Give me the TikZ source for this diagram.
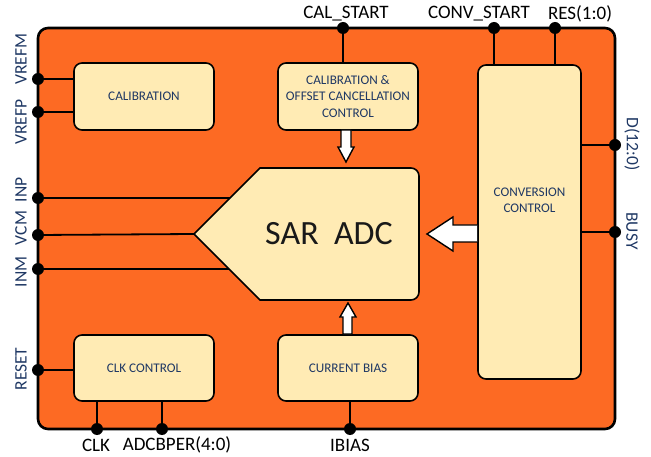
\documentclass[tikz,border=0pt]{standalone}
\usepackage{fontspec}
\setmainfont{Carlito}
\definecolor{orng}{RGB}{253,106,35}
\definecolor{cream}{RGB}{255,235,180}
\definecolor{navy}{RGB}{31,56,100}
\begin{document}
\begin{tikzpicture}[x=1pt,y=-1pt,
  blk/.style={draw, line width=1.6pt, rounded corners=8pt, fill=cream, text=navy,
    font=\fontsize{13.2}{16.5}\selectfont, align=center, inner sep=0pt},
  btxt/.style={text=navy, font=\fontsize{13.2}{16}\selectfont, align=center, inner sep=0pt},
  pinpt/.style={circle, fill=black, minimum size=12pt, inner sep=0pt},
  wire/.style={line width=1.8pt},
  lab/.style={font=\fontsize{19}{21}\selectfont, inner sep=0pt},
  slab/.style={font=\fontsize{17.5}{20}\selectfont, inner sep=0pt, text=navy},
  fat/.style={draw, line width=1.4pt, fill=white, line join=miter}]
\useasboundingbox (0,0) rectangle (651,457);
% outer block
\draw[line width=2.6pt, fill=orng, rounded corners=10pt] (38,28) rectangle (615,429);
% pins
\node[pinpt] (vrefm) at (38,79) {};
\node[pinpt] (vrefp) at (38,112) {};
\node[pinpt] (inp) at (38,198) {};
\node[pinpt] (vcm) at (38,235) {};
\node[pinpt] (inm) at (38,269) {};
\node[pinpt] (reset) at (38,370) {};
\node[pinpt] (calstart) at (343,28) {};
\node[pinpt] (convstart) at (494,28) {};
\node[pinpt] (res) at (555,28) {};
\node[pinpt] (dout) at (615,145) {};
\node[pinpt] (busy) at (615,232) {};
\node[pinpt] (clk) at (97,429) {};
\node[pinpt] (adcbper) at (162,429) {};
\node[pinpt] (ibias) at (350,429) {};
% blocks
\node[blk, minimum width=140pt, minimum height=67pt] (cal) at (144,96.5) {CALIBRATION};
\node[blk, minimum width=140pt, minimum height=67pt] (calo) at (348,96.5) {CALIBRATION \&\\OFFSET CANCELLATION\\CONTROL};
\node[blk, minimum width=103pt, minimum height=314pt] (conv) at (529.5,222) {};
\node[btxt] (convtxt) at (529.5,200) {CONVERSION\\CONTROL};
\node[blk, minimum width=140pt, minimum height=66pt] (clkc) at (144,368) {CLK CONTROL};
\node[blk, minimum width=140pt, minimum height=66pt] (bias) at (348,368) {CURRENT BIAS};
% SAR ADC shape corners
\coordinate (tip) at (194,234);
\coordinate (sartl) at (260,168);
\coordinate (sarbl) at (260,300);
\coordinate (sartr) at (419,168);
\coordinate (sarbr) at (419,300);
% wires into SAR (drawn under the shape)
\draw[wire] (inp.center) -- (inp.center -| sarbr);
\draw[wire] (vcm.center) -- (tip);
\draw[wire] (inm.center) -- (inm.center -| sarbr);
\draw[line width=1.6pt, fill=cream, line join=miter]
  (sarbl) -- (tip) -- (sartl) [rounded corners=8pt] -- (sartr) -- (sarbr) [sharp corners] -- cycle;
\node[font=\fontsize{34}{36}\selectfont, text=black!90] (sar) at (329,234) {SAR\hspace{0.45em}ADC};
% other wires
\draw[wire] (vrefm.center) -- (vrefm.center -| cal.west);
\draw[wire] (vrefp.center) -- (vrefp.center -| cal.west);
\draw[wire] (reset.center) -- (reset.center -| clkc.west);
\draw[wire] (calstart.center) -- (calstart.center |- calo.north);
\draw[wire] (convstart.center) -- (convstart.center |- conv.north);
\draw[wire] (res.center) -- (res.center |- conv.north);
\draw[wire] (dout.center) -- (dout.center -| conv.east);
\draw[wire] (busy.center) -- (busy.center -| conv.east);
\draw[wire] (clk.center) -- (clk.center |- clkc.south);
\draw[wire] (adcbper.center) -- (adcbper.center |- clkc.south);
\draw[wire] (ibias.center) -- (ibias.center |- bias.south);
% fat arrows
\draw[fat] (341,130) -- (351,130) -- (351,147) -- (354,147) -- (346,162) -- (338,147) -- (341,147) -- cycle;
\draw[fat] (343,334) -- (352,334) -- (352,317) -- (356,317) -- (348,303) -- (340,317) -- (343,317) -- cycle;
\draw[fat] (conv.west |- 0,225) -- (453,225) -- (453,217) -- (427,234) -- (453,251) -- (453,242) -- (conv.west |- 0,242);
% labels
\node[lab] (lcal) at (346,14) {CAL\_START};
\node[lab] (lconv) at (479,14) {CONV\_START};
\node[lab] (lres) at (580,14) {RES(1:0)};
\node[lab] (lclk) at (96,445) {CLK};
\node[lab] (ladc) at (177,445) {ADCBPER(4:0)};
\node[lab] (libias) at (350,445) {IBIAS};
\node[slab, rotate=90] (lvrefm) at (21,59) {VREFM};
\node[slab, rotate=90] (lvrefp) at (21,122) {VREFP};
\node[slab, rotate=90] (linp) at (21,190) {INP};
\node[slab, rotate=90] (lvcm) at (21,228) {VCM};
\node[slab, rotate=90] (linm) at (21,272) {INM};
\node[slab, rotate=90] (lreset) at (21,369) {RESET};
\node[slab, rotate=-90] (ld) at (632,144) {D(12:0)};
\node[slab, rotate=-90] (lbusy) at (632,231) {BUSY};
\end{tikzpicture}
\end{document}
